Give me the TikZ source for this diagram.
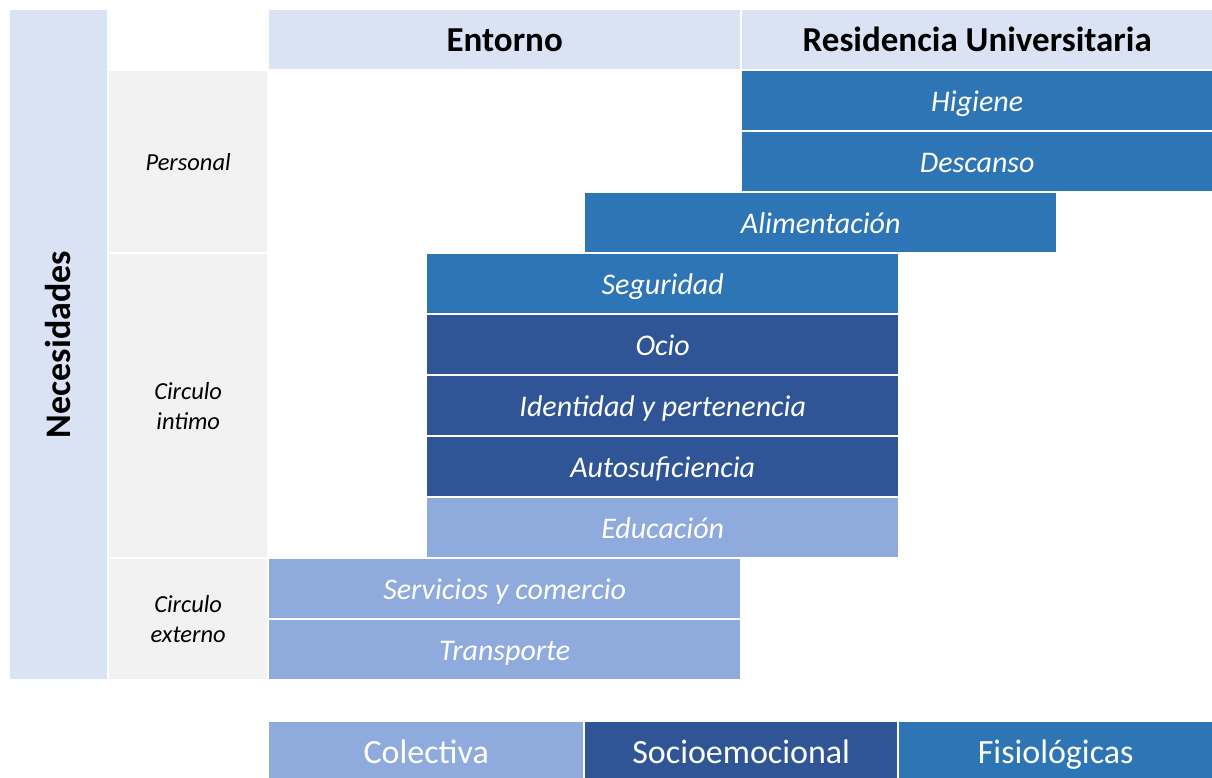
\documentclass[tikz,border=0pt]{standalone}
\usepackage{fontspec}
\setmainfont{Carlito}
\usetikzlibrary{positioning}
\definecolor{cabecera}{HTML}{DAE3F3}
\definecolor{grupo}{HTML}{F2F2F2}
\definecolor{fisio}{HTML}{2E75B6}
\definecolor{socio}{HTML}{2F5597}
\definecolor{colect}{HTML}{8FAADC}
\begin{document}
\begin{tikzpicture}[x=1pt, y=-1pt,
  box/.style = {anchor=north west, inner sep=0pt, minimum height=59pt, text height=24pt, text depth=2pt, text=white, font=\fontsize{30}{36}\selectfont\itshape},
  head/.style = {anchor=north west, inner sep=0pt, minimum height=59pt, text height=27pt, text depth=4pt, fill=cabecera, font=\fontsize{35}{40}\selectfont\bfseries},
  side/.style = {anchor=north west, inner sep=0pt, minimum width=158pt, fill=grupo, align=center, font=\fontsize{24.5}{30}\selectfont\itshape},
  legend/.style = {anchor=north west, inner sep=0pt, minimum height=56pt, text height=28pt, text depth=2pt, text=white, font=\fontsize{34}{40}\selectfont}]
\useasboundingbox (0,0) rectangle (1212,778);
% cabeceras
\node[head, minimum width=471pt] (entorno) at (269,10) {Entorno};
\node[head, minimum width=470pt] (residencia) at (742,10) {Residencia Universitaria};
\node[fill=cabecera, minimum width=669pt, minimum height=97pt, inner sep=0pt, rotate=90, font=\fontsize{36}{40}\selectfont\bfseries] (necesidades) at (58.5,344.5) {Necesidades};
% grupos
\node[side, minimum height=181pt] (personal) at (109,71) {Personal};
\node[side, minimum height=303pt] (intimo) at (109,254) {Circulo\\intimo};
\node[side, minimum height=120pt] (externo) at (109,559) {Circulo\\externo};
% necesidades
\node[box, fill=fisio, minimum width=470pt] (higiene) at (742,71) {Higiene};
\node[box, fill=fisio, minimum width=470pt] (descanso) at (742,132) {Descanso};
\node[box, fill=fisio, minimum width=471pt] (alimentacion) at (585,193) {Alimentación};
\node[box, fill=fisio, minimum width=471pt] (seguridad) at (427,254) {Seguridad};
\node[box, fill=socio, minimum width=471pt] (ocio) at (427,315) {Ocio};
\node[box, fill=socio, minimum width=471pt] (identidad) at (427,376) {Identidad y pertenencia};
\node[box, fill=socio, minimum width=471pt] (autosuficiencia) at (427,437) {Autosuficiencia};
\node[box, fill=colect, minimum width=471pt] (educacion) at (427,498) {Educación};
\node[box, fill=colect, minimum width=471pt] (servicios) at (269,559) {Servicios y comercio};
\node[box, fill=colect, minimum width=471pt] (transporte) at (269,620) {Transporte};
% leyenda
\node[legend, fill=colect, minimum width=314pt] (colectiva) at (269,722) {Colectiva};
\node[legend, fill=socio, minimum width=312pt] (socioemocional) at (585,722) {Socioemocional};
\node[legend, fill=fisio, minimum width=313pt] (fisiologicas) at (899,722) {Fisiológicas};
\end{tikzpicture}
\end{document}
